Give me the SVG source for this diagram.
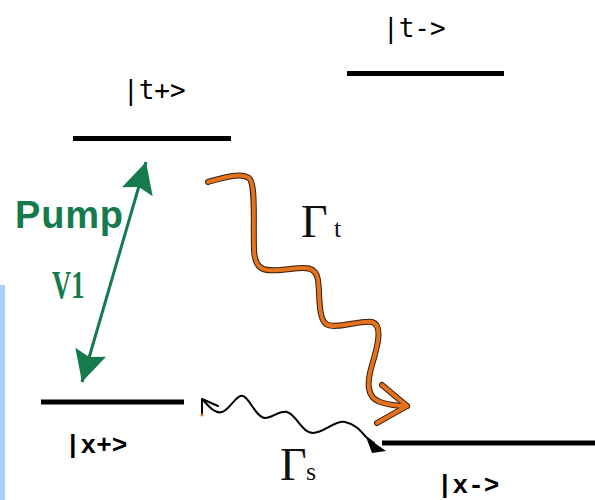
<svg xmlns="http://www.w3.org/2000/svg" width="595" height="500" viewBox="0 0 595 500">
<style>
.level{stroke:#000;stroke-width:5;fill:none}
.ket-t{font-family:"DejaVu Sans Mono","Liberation Mono",monospace;font-size:26px;fill:#000}
.ket-x{font-family:"Liberation Mono","DejaVu Sans Mono",monospace;font-weight:bold;font-size:26px;fill:#000}
.green{fill:#157a4c}
.gamma{font-family:"Liberation Serif","DejaVu Serif",serif;fill:#111}
.orange-out{stroke:#3a1c08;stroke-width:6;fill:none;stroke-linecap:round;stroke-linejoin:round}
.orange-in{stroke:#e3731f;stroke-width:4;fill:none;stroke-linecap:round;stroke-linejoin:round}
.wave{stroke:#000;stroke-width:2;fill:none;stroke-linecap:round;stroke-linejoin:round}
</style>
<defs>
<marker id="gh" markerUnits="userSpaceOnUse" markerWidth="34" markerHeight="34" refX="31" refY="17" orient="auto-start-reverse" viewBox="0 0 34 34">
<path d="M0,1 L31,17 L0,33 L5,17 z" fill="#157a4c"/>
</marker>
</defs>
<rect x="0" y="285" width="5" height="215" fill="#a8d0ff"/>
<g id="t_plus">
<line class="level" x1="73" y1="138.5" x2="231" y2="138.5"/>
<text class="ket-t" x="123" y="99">|t+&gt;</text>
</g>
<g id="t_minus">
<line class="level" x1="347" y1="73.5" x2="504" y2="73.5"/>
<text class="ket-t" x="383" y="37">|t-&gt;</text>
</g>
<g id="x_plus">
<line class="level" x1="41" y1="402" x2="184" y2="402"/>
<text class="ket-x" x="65" y="453">|x+&gt;</text>
</g>
<g id="x_minus">
<line class="level" x1="382" y1="443" x2="595" y2="443"/>
<text class="ket-x" x="437" y="493">|x-&gt;</text>
</g>
<g id="labels">
<text class="green" x="15" y="228" style="font-family:'Liberation Sans',Arial,sans-serif;font-weight:bold;font-size:38px;letter-spacing:0.8px">Pump</text>
<text class="green" transform="translate(52,298) scale(0.68,1)" style="font-family:'Liberation Serif','Times New Roman',serif;font-weight:bold;font-size:39px">V1</text>
<text class="gamma" x="301" y="237" font-size="46">Γ</text>
<text class="gamma" x="334" y="237" font-size="26">t</text>
<text class="gamma" x="280" y="480" font-size="46">Γ</text>
<text class="gamma" x="306" y="480" font-size="26">s</text>
</g>
<g id="connectors">
<line x1="82" y1="382" x2="146" y2="162" stroke="#157a4c" stroke-width="3" marker-start="url(#gh)" marker-end="url(#gh)"/>
<path class="orange-out" d="M208,182 C222,178 240,172 249,178 C256,184 253,220 254,250 C255,272 265,272 290,269 C305,267 316,266 318,280 C320,295 318,318 326,324 C335,330 360,320 372,322 C383,325 378,345 372,365 C367,382 366,397 380,402 C392,406 400,406 407,406"/>
<polyline class="orange-out" points="382,385 407,406 377,423"/>
<path class="orange-in" d="M208,182 C222,178 240,172 249,178 C256,184 253,220 254,250 C255,272 265,272 290,269 C305,267 316,266 318,280 C320,295 318,318 326,324 C335,330 360,320 372,322 C383,325 378,345 372,365 C367,382 366,397 380,402 C392,406 400,406 407,406"/>
<polyline class="orange-in" points="382,385 407,406 377,423"/>
<path class="wave" d="M203,400 C210,408 216,414 222,412 C230,410 236,394 243,396 C250,398 256,418 265,418 C272,418 280,410 287,412 C296,414 302,433 313,433 C324,433 335,420 345,422 C355,424 360,430 366,437 L374,443"/>
<polyline class="wave" points="218,406 202,399 202,415"/>
<circle cx="202" cy="415" r="1.5" fill="#e3731f"/>
<polygon points="386,451 366,437 372,453" fill="#000"/>
</g>
</svg>
